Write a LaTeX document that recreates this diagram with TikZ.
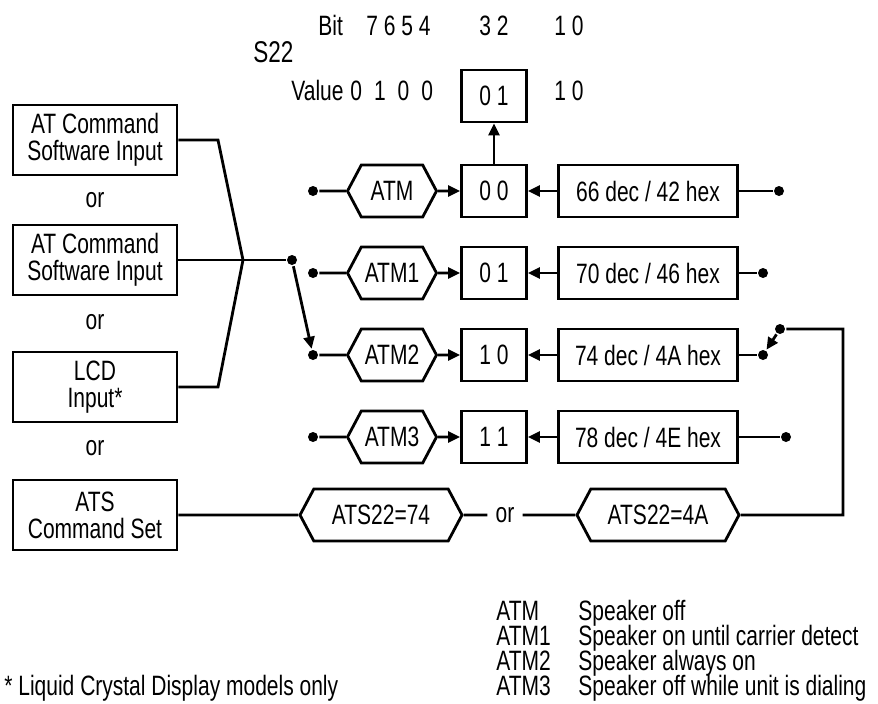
\documentclass[tikz,border=0pt]{standalone}
\usepackage{fontspec}
\setmainfont{Liberation Sans}[FakeStretch=0.75]
\usetikzlibrary{arrows.meta,shapes.symbols}

\begin{document}
\begin{tikzpicture}[x=1pt,y=-1pt,>={Triangle[length=12pt,width=11pt]},line width=2.8pt,
  every node/.style={font=\fontsize{28}{30}\selectfont,inner sep=0pt},
  box/.style={draw,minimum height=52pt},
  srcbox/.style={draw,minimum width=164pt,minimum height=70pt,align=center,font=\fontsize{28}{27}\selectfont},
  hexa/.style={draw,signal,signal to=east and west,signal pointer angle=124,minimum height=52pt},
  dot/.style={circle,fill,minimum size=10pt,inner sep=0pt},
  lbl/.style={anchor=base west},
  legend/.style={anchor=base west,text height=17pt,text depth=5pt}]
  \useasboundingbox (0,0) rectangle (878,704);

  % register header
  \node[lbl,font=\fontsize{30}{30}\selectfont] (s22) at (252,62) {S22};
  \node[lbl] (bit) at (317,35) {Bit};
  \node[lbl] (bhi) at (365,35) {7 6 5 4};
  \node[lbl] (bmid) at (478,35) {3 2};
  \node[lbl] (blo) at (553,35) {1 0};
  \node[lbl] (value) at (290,100) {Value};
  \node[lbl] (vhi) at (349,100) {0\hspace{12pt}1\hspace{12pt}0\hspace{12pt}0};
  \node[box,minimum width=65pt] (val) at (494,96) {0 1};
  \node[lbl] (vlo) at (553,100) {1 0};

  % input sources
  \node[srcbox] (src1) at (95,140) {AT Command\\Software Input};
  \node (or1) at (95,200) {or};
  \node[srcbox] (src2) at (95,260) {AT Command\\Software Input};
  \node (or2) at (95,322) {or};
  \node[srcbox] (src3) at (95,387) {LCD\\Input*};
  \node (or3) at (95,448) {or};
  \node[srcbox] (src4) at (95,515) {ATS\\Command Set};

  % ATM rows
  \node[dot] (l0) at (313,191) {};
  \node[hexa,minimum width=89pt] (m0) at (392,191) {ATM};
  \node[box,minimum width=65pt] (v0) at (494,191) {0 0};
  \node[box,minimum width=179pt] (d0) at (648,191) {66 dec / 42 hex};
  \node[dot] (r0) at (779,191) {};

  \node[dot] (l1) at (313,273) {};
  \node[hexa,minimum width=89pt] (m1) at (392,273) {ATM1};
  \node[box,minimum width=65pt] (v1) at (494,273) {0 1};
  \node[box,minimum width=179pt] (d1) at (648,273) {70 dec / 46 hex};
  \node[dot] (r1) at (763,273) {};

  \node[dot] (l2) at (313,355) {};
  \node[hexa,minimum width=89pt] (m2) at (392,355) {ATM2};
  \node[box,minimum width=65pt] (v2) at (494,355) {1 0};
  \node[box,minimum width=179pt] (d2) at (648,355) {74 dec / 4A hex};
  \node[dot] (r2) at (763,355) {};

  \node[dot] (l3) at (313,437) {};
  \node[hexa,minimum width=89pt] (m3) at (392,437) {ATM3};
  \node[box,minimum width=65pt] (v3) at (494,437) {1 1};
  \node[box,minimum width=179pt] (d3) at (648,437) {78 dec / 4E hex};
  \node[dot] (r3) at (786,437) {};

  \draw (l0) -- (m0); \draw[->] (m0) -- (v0); \draw[->] (d0) -- (v0); \draw (d0) -- (r0);
  \draw (l1) -- (m1); \draw[->] (m1) -- (v1); \draw[->] (d1) -- (v1); \draw (d1) -- (r1);
  \draw (l2) -- (m2); \draw[->] (m2) -- (v2); \draw[->] (d2) -- (v2); \draw (d2) -- (r2);
  \draw (l3) -- (m3); \draw[->] (m3) -- (v3); \draw[->] (d3) -- (v3); \draw (d3) -- (r3);
  \draw[->] (v0) -- (val);

  % ATS register write
  \node[hexa,minimum width=162pt] (h74) at (381,515) {ATS22=74};
  \node[inner xsep=7pt] (or4) at (505,515) {or};
  \node[hexa,minimum width=162pt] (h4a) at (658,515) {ATS22=4A};
  \node[dot] (sw) at (780,329) {};
  \coordinate (c1) at (843,515);
  \coordinate (c2) at (843,329);
  \draw (src4) -- (h74); \draw (h74) -- (or4); \draw (or4) -- (h4a);
  \draw (h4a) -- (c1) -- (c2) -- (sw);
  \draw[->] (sw) -- (r2);

  % selector lines
  \coordinate (k1) at (218,140);
  \coordinate (k3) at (218,387);
  \coordinate (jn) at (243,260);
  \node[dot] (jd) at (292,260) {};
  \draw (src1.east) -- (k1) -- (jn);
  \draw (src3.east) -- (k3) -- (jn);
  \draw (src2) -- (jd);
  \draw[->] (jd) -- (l2);

  % legend
  \node[legend] (k0) at (495,620) {ATM};
  \node[legend] (e0) at (577,620) {Speaker off};
  \node[legend] (k1t) at (495,645) {ATM1};
  \node[legend] (e1) at (577,645) {Speaker on until carrier detect};
  \node[legend] (k2t) at (495,670) {ATM2};
  \node[legend] (e2) at (577,670) {Speaker always on};
  \node[legend] (k3t) at (495,695) {ATM3};
  \node[legend] (e3) at (577,695) {Speaker off while unit is dialing};
  \node[legend] (fn) at (3,695) {* Liquid Crystal Display models only};
\end{tikzpicture}
\end{document}
